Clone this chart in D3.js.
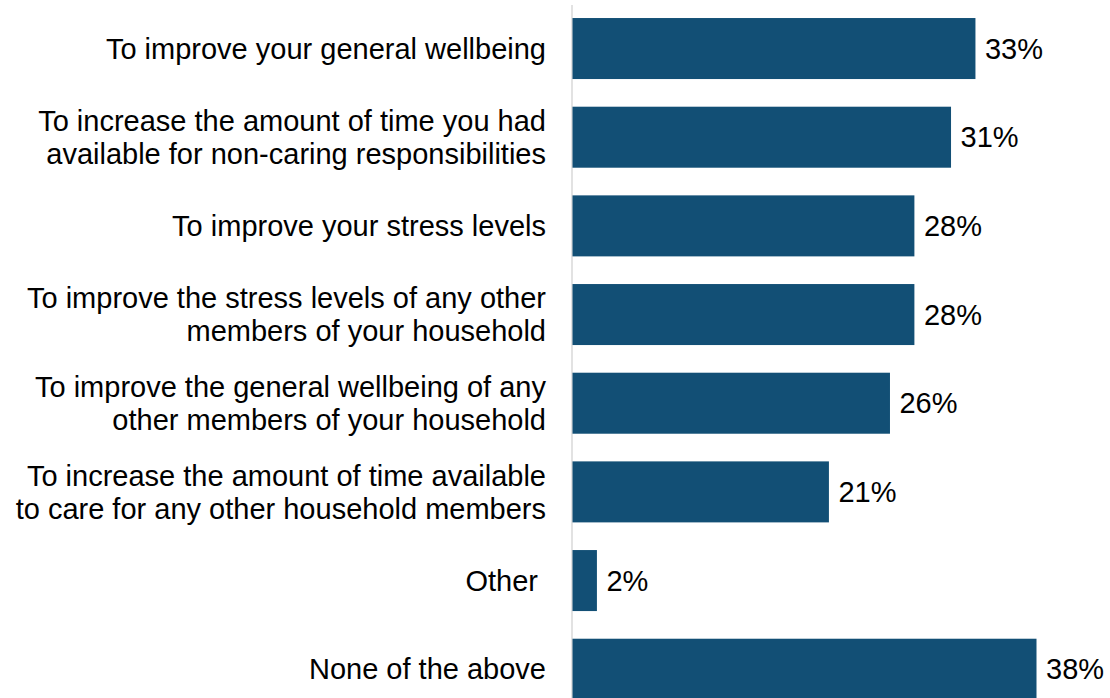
<!DOCTYPE html>
<html>
<head>
<meta charset="utf-8">
<script src="https://cdn.jsdelivr.net/npm/d3@7"></script>
<style>
  html, body { margin: 0; padding: 0; background: #ffffff; }
  svg { display: block; }
  text { font-family: "Liberation Sans", Arial, sans-serif; fill: #000000; }
</style>
</head>
<body>
<svg id="chart" width="1110" height="698"></svg>
<script>
// Reasons given, one entry per bar (each label split into its lines)
const categories = [
  ["To improve your general wellbeing"],
  ["To increase the amount of time you had", "available for non-caring responsibilities"],
  ["To improve your stress levels"],
  ["To improve the stress levels of any other", "members of your household"],
  ["To improve the general wellbeing of any", "other members of your household"],
  ["To increase the amount of time available", "to care for any other household members"],
  ["Other\u00a0"],
  ["None of the above"]
];
// Share of respondents, per cent
const values = [33, 31, 28, 28, 26, 21, 2, 38];

const svg = d3.select("#chart");
const plotLeft = 572;
const keys = categories.map((c, i) => i);

const x = d3.scaleLinear().domain([0, 38]).range([plotLeft, plotLeft + 464]);
const y = d3.scaleBand()
  .domain(keys)
  .range([4.2, 4.2 + 8 * 88.67])
  .paddingInner(0.312)
  .paddingOuter(0.156);

// vertical baseline
svg.append("line")
  .attr("x1", plotLeft).attr("x2", plotLeft)
  .attr("y1", 5).attr("y2", 698)
  .attr("stroke", "#d9d9d9").attr("stroke-width", 1.5);

// bars
svg.append("g").selectAll("rect")
  .data(values)
  .join("rect")
  .attr("x", x(0) + 0.5)
  .attr("y", (d, i) => y(i))
  .attr("width", d => x(d) - x(0))
  .attr("height", y.bandwidth())
  .attr("fill", "#124f75");

// value labels
svg.append("g").selectAll("text")
  .data(values)
  .join("text")
  .attr("x", d => x(d) + 10)
  .attr("y", (d, i) => y(i) + y.bandwidth() / 2)
  .attr("dy", "0.35em")
  .attr("font-size", 29)
  .text(d => d + "%");

// category labels, right-aligned against the baseline
const lineH = 33;
const labels = svg.append("g").selectAll("text")
  .data(categories)
  .join("text")
  .attr("text-anchor", "end")
  .attr("font-size", 29)
  .attr("transform", (d, i) => `translate(${plotLeft - 26},${y(i) + y.bandwidth() / 2})`);

labels.selectAll("tspan")
  .data(d => d.map((t, j) => ({ t, j, n: d.length })))
  .join("tspan")
  .attr("x", 0)
  .attr("y", d => (d.j - (d.n - 1) / 2) * lineH)
  .attr("dy", "0.35em")
  .text(d => d.t);
</script>
</body>
</html>
